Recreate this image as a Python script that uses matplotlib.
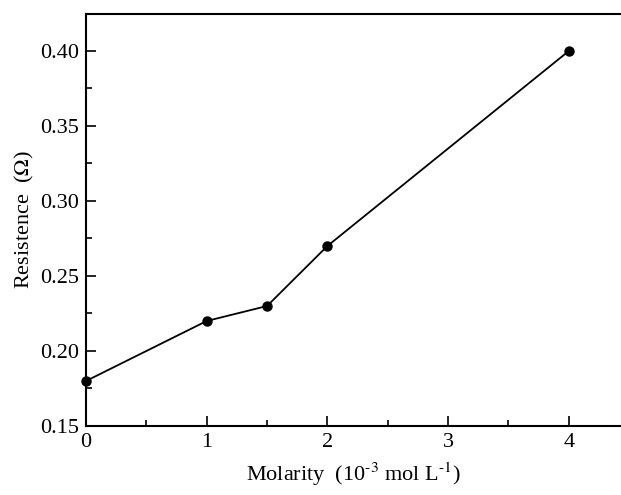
import matplotlib
matplotlib.use("Agg")
import matplotlib.pyplot as plt
from matplotlib.ticker import MultipleLocator

molarity = [0, 1, 1.5, 2, 4]
resistance = [0.18, 0.22, 0.23, 0.27, 0.40]

plt.rcParams['font.family'] = ['Liberation Serif', 'DejaVu Serif']
plt.rcParams['mathtext.fontset'] = 'stix'

W, H = 621, 495
fig = plt.figure(figsize=(W/100, H/100), dpi=100)
left, right, top, bottom = 86, 621, 14, 426
ax = fig.add_axes([left/W, 1 - bottom/H, (right-left)/W, (bottom-top)/H])

ax.plot(molarity, resistance, color='black', lw=1.3, marker='o', ms=6.5, clip_on=False, zorder=3)

ax.set_xlim(0, (right-left)/120.7)
ax.set_ylim(0.15, 0.15 + (bottom-top)/1500)
ax.xaxis.set_major_locator(MultipleLocator(1))
ax.xaxis.set_minor_locator(MultipleLocator(0.5))
ax.yaxis.set_major_locator(MultipleLocator(0.05))
ax.yaxis.set_minor_locator(MultipleLocator(0.025))
ax.yaxis.set_major_formatter(matplotlib.ticker.FormatStrFormatter('%.2f'))

ax.spines['right'].set_visible(False)
for s in ['left', 'bottom', 'top']:
    ax.spines[s].set_linewidth(1.5)
ax.tick_params(which='both', direction='in', top=False, right=False, width=1.2, labelsize=16)
ax.tick_params(which='major', length=7, pad=5)
ax.tick_params(which='minor', length=4)

ax.set_xlabel(r'Molarity  (10$^{\text{-3}}$ mol L$^{\text{-1}}$)', fontsize=16, labelpad=6)
ax.set_ylabel(r'Resistence  ($\Omega$)', fontsize=16, labelpad=3)

fig.savefig('out.png', dpi=100)
